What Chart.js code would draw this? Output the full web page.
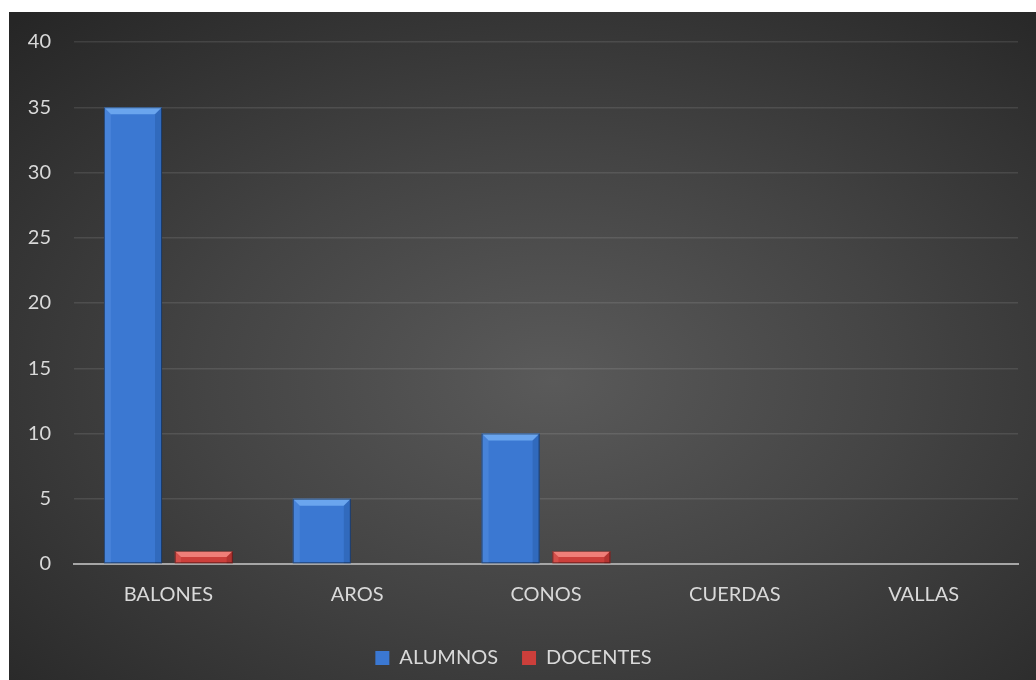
<!DOCTYPE html>
<html><head><meta charset="utf-8">
<script src="https://cdn.jsdelivr.net/npm/chart.js@4/dist/chart.umd.min.js"></script>
<style>
html,body{margin:0;padding:0;background:#fff;width:1036px;height:680px;overflow:hidden;}
#wrap{position:absolute;left:9px;top:12px;width:1027px;height:668px;
background:radial-gradient(ellipse 75% 75% at 53% 55%, #5a5a5a 0%, #444 45%, #262626 100%);}
canvas{display:block;}
</style></head><body>
<div id="wrap"><canvas id="c" width="1027" height="668"></canvas></div>
<script>
const categories = ["BALONES","AROS","CONOS","CUERDAS","VALLAS"];
const alumnos = [35,5,10,0,0];
const docentes = [1,0,1,0,0];
const yTicks = [0,5,10,15,20,25,30,35,40];

const FONT = "Lato, 'Open Sans', sans-serif";
const styles = {
  blue:{base:"#3b78d2", light:"#6aa5ee", dark:"#24569e"},
  red:{base:"#cc3f3b", light:"#ef7e78", dark:"#8f2522"}
};

const bevel = {
  id:'bevel',
  afterDatasetsDraw(chart){
    const ctx = chart.ctx;
    chart.data.datasets.forEach((ds,i)=>{
      const st = styles[ds._style];
      chart.getDatasetMeta(i).data.forEach(el=>{
        const p = el.getProps(['x','y','base','width'],true);
        const h = p.base - p.y; if(h<=0.5) return;
        const l = p.x - p.width/2, r = p.x + p.width/2, t = p.y, b = p.base;
        const bv = Math.min(7, h/2);
        ctx.save();
        ctx.fillStyle = st.light;
        ctx.beginPath(); ctx.moveTo(l,t); ctx.lineTo(r,t); ctx.lineTo(r-bv,t+bv); ctx.lineTo(l+bv,t+bv); ctx.closePath(); ctx.fill();
        ctx.globalAlpha = 0.25; ctx.fillStyle = st.light;
        ctx.beginPath(); ctx.moveTo(l,t); ctx.lineTo(l+bv,t+bv); ctx.lineTo(l+bv,b); ctx.lineTo(l,b); ctx.closePath(); ctx.fill();
        ctx.globalAlpha = 0.4; ctx.fillStyle = st.dark;
        ctx.beginPath(); ctx.moveTo(r,t); ctx.lineTo(r-bv,t+bv); ctx.lineTo(r-bv,b); ctx.lineTo(r,b); ctx.closePath(); ctx.fill();
        ctx.globalAlpha = 1;
        ctx.strokeStyle = "rgba(0,0,0,0.45)"; ctx.lineWidth = 1;
        ctx.strokeRect(l+0.5,t+0.5,p.width-1,h-1);
        ctx.restore();
      });
    });
  }
};

new Chart(document.getElementById('c'),{
  type:'bar',
  data:{labels:categories,datasets:[
    {label:"ALUMNOS",data:alumnos,backgroundColor:styles.blue.base,_style:'blue',categoryPercentage:0.75,barPercentage:0.82},
    {label:"DOCENTES",data:docentes,backgroundColor:styles.red.base,_style:'red',categoryPercentage:0.75,barPercentage:0.82}
  ]},
  options:{
    responsive:false,animation:false,
    layout:{padding:{top:30,right:18,bottom:2,left:0}},
    plugins:{
      tooltip:{enabled:false},
      legend:{position:'bottom',labels:{color:"#d9d9d9",font:{family:FONT,size:20},boxWidth:14,boxHeight:14,padding:24}}
    },
    scales:{
      x:{grid:{display:false,drawTicks:false},border:{display:true,color:"#a6a6a6",width:2},
         ticks:{color:"#d9d9d9",font:{family:FONT,size:20},padding:19},
         afterFit(s){s.height=60;s.paddingLeft=0;s.paddingRight=0;}},
      y:{min:0,max:40,afterBuildTicks(s){s.ticks=yTicks.map(v=>({value:v}));},
         grid:{color:"rgba(255,255,255,0.1)",lineWidth:1.5,drawTicks:false},border:{display:false},
         ticks:{color:"#d9d9d9",font:{family:FONT,size:20},padding:23},
         afterFit(s){s.width=65;s.paddingTop=0;s.paddingBottom=0;}}
    }
  },
  plugins:[bevel]
});
</script>
</body></html>
